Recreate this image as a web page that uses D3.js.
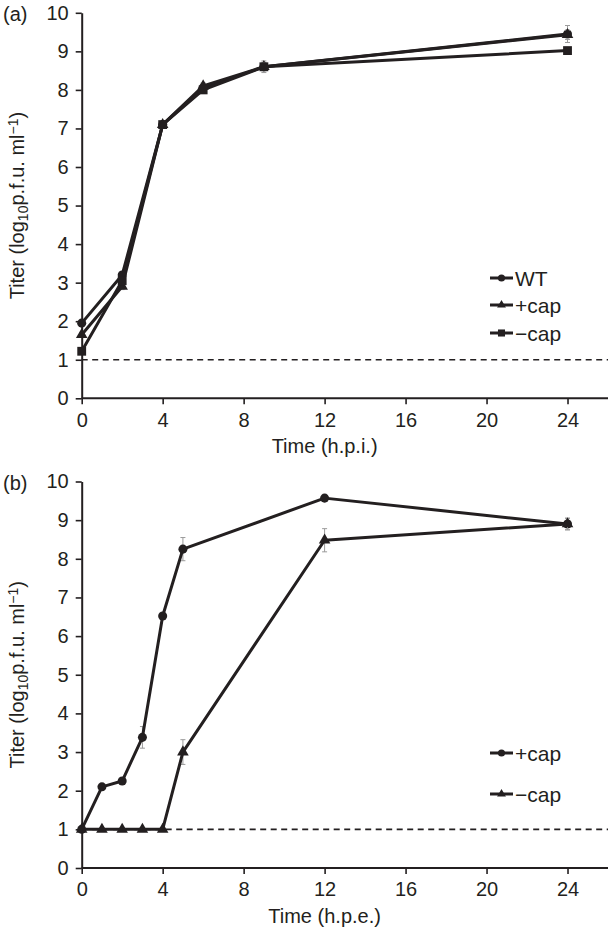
<!DOCTYPE html>
<html><head><meta charset="utf-8">
<script src="https://cdn.jsdelivr.net/npm/d3@7"></script>
<style>body{margin:0;background:#fff}svg{display:block}text{font-family:"Liberation Sans",Arial,sans-serif;fill:#231f20}</style>
</head><body>
<svg id="c" width="608" height="928"></svg>
<script>
// ---- data ----
const timesA = [0, 2, 4, 6, 9, 24];
const wtA    = [1.95, 3.2, 7.1, 8.05, 8.6, 9.45];
const pcapA  = [1.65, 2.9, 7.1, 8.1, 8.6, 9.43];
const mcapA  = [1.22, 3.05, 7.1, 8.0, 8.6, 9.02];
const errWtA   = [0.05, 0.08, 0.05, 0.1, 0.15, 0.22];
const errPcapA = [0.05, 0.08, 0.05, 0.08, 0.1, 0.12];
const errMcapA = [0.05, 0.08, 0.05, 0.08, 0.1, 0.06];

const timesB = [0, 1, 2, 3, 4, 5, 12, 24];
const pcapB  = [1.0, 2.1, 2.25, 3.38, 6.52, 8.25, 9.57, 8.9];
const mcapB  = [1.0, 1.0, 1.0, 1.0, 1.0, 3.0, 8.48, 8.9];
const errPcapB = [0.02, 0.05, 0.05, 0.28, 0.05, 0.3, 0.05, 0.15];
const errMcapB = [0.02, 0.02, 0.02, 0.02, 0.02, 0.32, 0.3, 0.15];

const xTicks = [0, 4, 8, 12, 16, 20, 24];
const yTicks = [0, 1, 2, 3, 4, 5, 6, 7, 8, 9, 10];
const detectionLimit = 1;

const svg = d3.select("#c");
const x = d3.scaleLinear().domain([0, 26]).range([81.7, 608]);

function symbolFor(shape){
  return shape === "circle" ? d3.symbol(d3.symbolCircle, 64)
       : shape === "triangle" ? d3.symbol(d3.symbolTriangle, 58)
       : d3.symbol(d3.symbolSquare, 78);
}

function panel(opts){
  const y = d3.scaleLinear().domain([0, 10]).range([opts.y0, opts.y10]);
  const g = svg.append("g");
  // detection limit dashed line
  g.append("line").attr("x1", x(0)).attr("x2", 608)
    .attr("y1", y(detectionLimit)).attr("y2", y(detectionLimit))
    .attr("stroke", "#231f20").attr("stroke-width", 1.6).attr("stroke-dasharray", "6,4.5");

  // axes
  const yAx = g.append("g").attr("transform", `translate(${x(0)},0)`)
    .call(d3.axisLeft(y).tickValues(yTicks).tickSize(6).tickPadding(7).tickSizeOuter(0));
  const xAx = g.append("g").attr("transform", `translate(0,${y(0)})`)
    .call(d3.axisBottom(x).tickValues(xTicks).tickSize(6).tickPadding(8).tickSizeOuter(0));
  [yAx, xAx].forEach(a => {
    a.select(".domain").attr("stroke", "#231f20").attr("stroke-width", 2);
    a.selectAll(".tick line").attr("stroke", "#231f20").attr("stroke-width", 1.6);
    a.selectAll("text").style("font-family", '"Liberation Sans",Arial,sans-serif').attr("fill", "#231f20");
  });
  yAx.selectAll("text").style("font-size", "20px");
  xAx.selectAll("text").style("font-size", "20px").attr("dy", "0.72em");
  xAx.select(".domain").attr("d", `M${x(0)},0H608`);

  // error bars + lines + markers
  opts.series.forEach(s => {
    const pts = opts.times.map((t, i) => ({t, v: s.values[i], e: s.err[i]}));
    const eb = g.append("g").attr("stroke", "#9a9a9a").attr("stroke-width", 1);
    pts.filter(p => p.e > 0.04).forEach(p => {
      eb.append("line").attr("x1", x(p.t)).attr("x2", x(p.t)).attr("y1", y(p.v - p.e)).attr("y2", y(p.v + p.e));
      [p.v - p.e, p.v + p.e].forEach(v => eb.append("line").attr("x1", x(p.t) - 2.5).attr("x2", x(p.t) + 2.5).attr("y1", y(v)).attr("y2", y(v)));
    });
    g.append("path").datum(pts)
      .attr("d", d3.line().x(d => x(d.t)).y(d => y(d.v)))
      .attr("fill", "none").attr("stroke", "#231f20").attr("stroke-width", 3).attr("stroke-linejoin", "round");
    g.selectAll(null).data(pts).join("path")
      .attr("transform", d => `translate(${x(d.t)},${y(d.v)})`)
      .attr("d", symbolFor(s.shape)).attr("fill", "#231f20");
  });

  // legend
  opts.series.forEach((s, i) => {
    const ly = opts.legendY[i];
    g.append("line").attr("x1", 490).attr("x2", 513).attr("y1", ly).attr("y2", ly)
      .attr("stroke", "#231f20").attr("stroke-width", 3);
    g.append("path").attr("transform", `translate(501.5,${ly})`)
      .attr("d", (s.shape === "circle" ? d3.symbol(d3.symbolCircle, 40)
                 : s.shape === "triangle" ? d3.symbol(d3.symbolTriangle, 34)
                 : d3.symbol(d3.symbolSquare, 50))()).attr("fill", "#231f20");
    g.append("text").attr("x", 515).attr("y", ly).attr("dy", "0.36em")
      .style("font-size", "21px").text(s.name);
  });

  // panel label
  g.append("text").attr("x", 3).attr("y", opts.y10 + 8).style("font-size", "20px").text(opts.tag);

  // axis titles
  g.append("text").attr("x", x(0) + (x(24) - x(0)) / 2 + 0).attr("y", y(0) + 55)
    .attr("text-anchor", "middle").style("font-size", "20px").text(opts.xTitle);
  const yt = g.append("text").attr("text-anchor", "middle")
    .attr("transform", `translate(24,${(y(0) + y(10)) / 2}) rotate(-90)`).style("font-size", "20px");
  yt.append("tspan").text("Titer (log");
  yt.append("tspan").attr("baseline-shift", "-25%").style("font-size", "14px").text("10");
  yt.append("tspan").text("p.f.u. ml");
  yt.append("tspan").attr("baseline-shift", "40%").style("font-size", "14px").text("−1");
  yt.append("tspan").text(")");
}

panel({
  tag: "(a)", y0: 398.3, y10: 12.8, times: timesA, xTitle: "Time (h.p.i.)",
  legendY: [278, 305, 333],
  series: [
    {name: "WT", shape: "circle", values: wtA, err: errWtA},
    {name: "+cap", shape: "triangle", values: pcapA, err: errPcapA},
    {name: "−cap", shape: "square", values: mcapA, err: errMcapA}
  ]
});
panel({
  tag: "(b)", y0: 868, y10: 481.5, times: timesB, xTitle: "Time (h.p.e.)",
  legendY: [753, 794],
  series: [
    {name: "+cap", shape: "circle", values: pcapB, err: errPcapB},
    {name: "−cap", shape: "triangle", values: mcapB, err: errMcapB}
  ]
});
</script>
</body></html>
